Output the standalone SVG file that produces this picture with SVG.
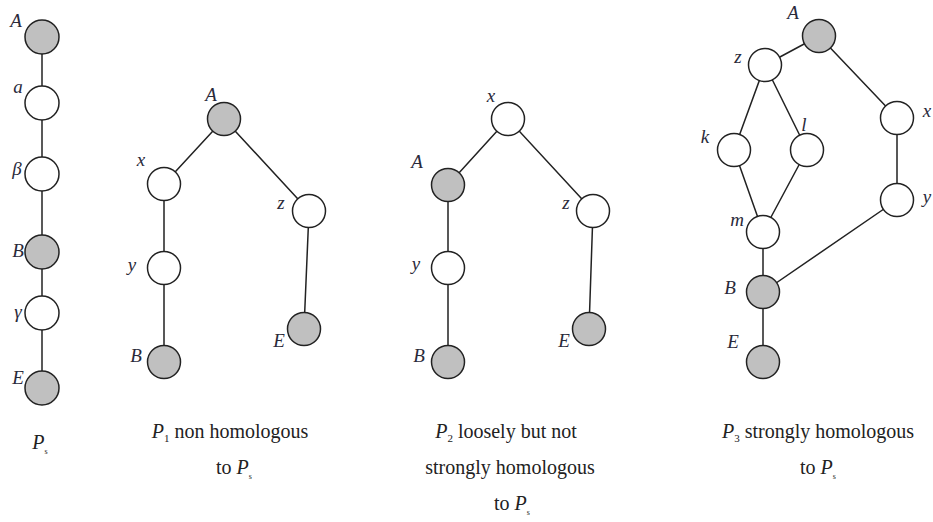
<svg xmlns="http://www.w3.org/2000/svg" width="933" height="522" viewBox="0 0 933 522">
<style>
.n{stroke:#222;stroke-width:1.5;fill:#fff}
.g{fill:#c0c0c0}
.e{stroke:#222;stroke-width:1.5;fill:none}
.l{font-family:"Liberation Serif","DejaVu Serif","Times New Roman",serif;font-style:italic;font-size:19px;fill:#2a2a3a;text-anchor:middle}
.c{font-family:"Liberation Serif","DejaVu Serif","Times New Roman",serif;font-size:20px;fill:#222;text-anchor:middle}
.i{font-style:italic}
.s{font-size:8px}
.sb{font-size:11px}
</style>
<rect width="933" height="522" fill="#fff"/>
<g id="connectors">
<path class="e" d="M42 37V388"/>
<path class="e" d="M224 119L164 184M224 119L309 211M164 184V362M309 211L304 329"/>
<path class="e" d="M508 119L448 185M508 119L593 211M448 185V362M593 211L589 329"/>
<path class="e" d="M819 36L765 65M819 36L897 118M765 65L734 150M765 65L807 150M734 150L763 232M807 150L763 232M763 232V362M897 118V200M897 200L763 292"/>
</g>
<g id="Ps">
<g id="ps-A"><circle class="n g" cx="42" cy="37" r="17"/><text class="l" x="16" y="27">A</text></g>
<g id="ps-a"><circle class="n" cx="42" cy="103" r="17"/><text class="l" x="18" y="93">a</text></g>
<g id="ps-beta"><circle class="n" cx="42" cy="174" r="17"/><text class="l" x="17" y="175">β</text></g>
<g id="ps-B"><circle class="n g" cx="42" cy="252" r="17"/><text class="l" x="18" y="257">B</text></g>
<g id="ps-gamma"><circle class="n" cx="42" cy="313" r="17"/><text class="l" x="18" y="318">γ</text></g>
<g id="ps-E"><circle class="n g" cx="42" cy="388" r="17"/><text class="l" x="18" y="384">E</text></g>
<text class="c" x="40" y="449"><tspan class="i">P</tspan><tspan class="s" dy="5">s</tspan></text>
</g>
<g id="P1">
<g id="p1-A"><circle class="n g" cx="224" cy="119" r="16.5"/><text class="l" x="211" y="101">A</text></g>
<g id="p1-x"><circle class="n" cx="164" cy="184" r="16.5"/><text class="l" x="141" y="166">x</text></g>
<g id="p1-z"><circle class="n" cx="309" cy="211" r="16.5"/><text class="l" x="281" y="209">z</text></g>
<g id="p1-y"><circle class="n" cx="164" cy="268" r="16.5"/><text class="l" x="132" y="271">y</text></g>
<g id="p1-B"><circle class="n g" cx="164" cy="362" r="16.5"/><text class="l" x="136" y="362">B</text></g>
<g id="p1-E"><circle class="n g" cx="304" cy="329" r="16.5"/><text class="l" x="279" y="347">E</text></g>
<text class="c" x="230" y="438"><tspan class="i">P</tspan><tspan class="sb" dy="4">1</tspan><tspan dy="-4"> non homologous</tspan></text>
<text class="c" x="234" y="474">to <tspan class="i">P</tspan><tspan class="s" dy="5">s</tspan></text>
</g>
<g id="P2">
<g id="p2-x"><circle class="n" cx="508" cy="119" r="16.5"/><text class="l" x="491" y="102">x</text></g>
<g id="p2-A"><circle class="n g" cx="448" cy="185" r="16.5"/><text class="l" x="417" y="168">A</text></g>
<g id="p2-z"><circle class="n" cx="593" cy="211" r="16.5"/><text class="l" x="566" y="209">z</text></g>
<g id="p2-y"><circle class="n" cx="448" cy="268" r="16.5"/><text class="l" x="416" y="270">y</text></g>
<g id="p2-B"><circle class="n g" cx="448" cy="362" r="16.5"/><text class="l" x="419" y="362">B</text></g>
<g id="p2-E"><circle class="n g" cx="589" cy="329" r="16.5"/><text class="l" x="564" y="347">E</text></g>
<text class="c" x="506" y="438"><tspan class="i">P</tspan><tspan class="sb" dy="4">2</tspan><tspan dy="-4"> loosely but not</tspan></text>
<text class="c" x="510" y="474">strongly homologous</text>
<text class="c" x="512" y="510">to <tspan class="i">P</tspan><tspan class="s" dy="5">s</tspan></text>
</g>
<g id="P3">
<g id="p3-A"><circle class="n g" cx="819" cy="36" r="16.5"/><text class="l" x="793" y="19">A</text></g>
<g id="p3-z"><circle class="n" cx="765" cy="65" r="16.5"/><text class="l" x="738" y="63">z</text></g>
<g id="p3-k"><circle class="n" cx="734" cy="150" r="16.5"/><text class="l" x="705" y="143">k</text></g>
<g id="p3-l"><circle class="n" cx="807" cy="150" r="16.5"/><text class="l" x="804" y="131">l</text></g>
<g id="p3-m"><circle class="n" cx="763" cy="232" r="16.5"/><text class="l" x="737" y="226">m</text></g>
<g id="p3-x"><circle class="n" cx="897" cy="118" r="16.5"/><text class="l" x="927" y="117">x</text></g>
<g id="p3-y"><circle class="n" cx="897" cy="200" r="16.5"/><text class="l" x="927" y="203">y</text></g>
<g id="p3-B"><circle class="n g" cx="763" cy="292" r="16.5"/><text class="l" x="730" y="294">B</text></g>
<g id="p3-E"><circle class="n g" cx="763" cy="362" r="16.5"/><text class="l" x="733" y="348">E</text></g>
<text class="c" x="818" y="438"><tspan class="i">P</tspan><tspan class="sb" dy="4">3</tspan><tspan dy="-4"> strongly homologous</tspan></text>
<text class="c" x="818" y="474">to <tspan class="i">P</tspan><tspan class="s" dy="5">s</tspan></text>
</g>
</svg>
